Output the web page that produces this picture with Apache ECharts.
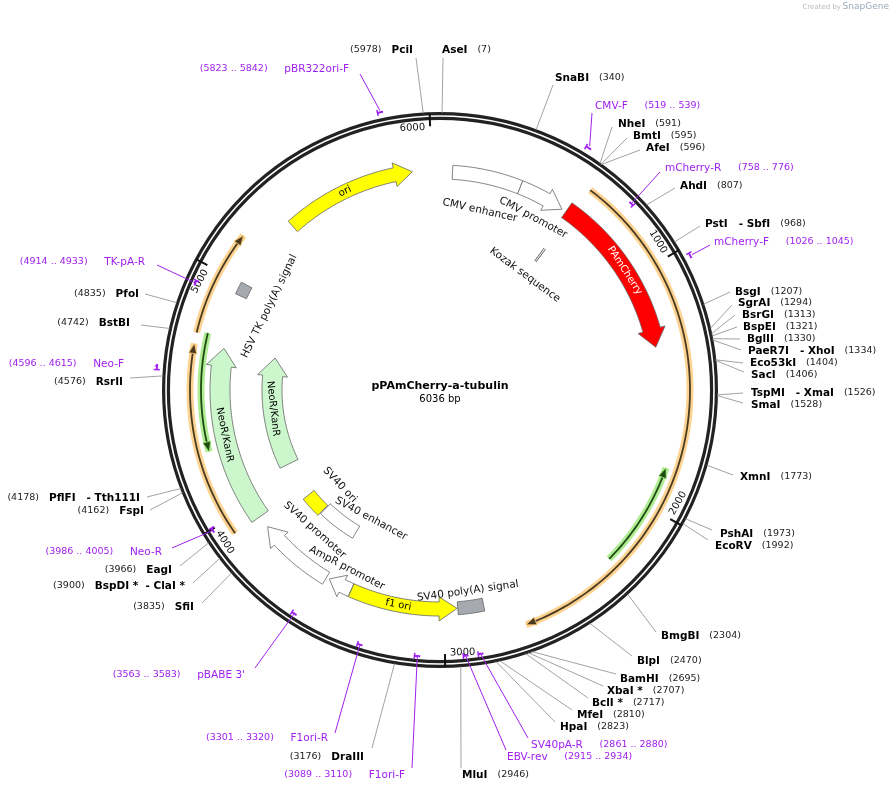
<!DOCTYPE html>
<html><head><meta charset="utf-8">
<script src="https://cdn.jsdelivr.net/npm/echarts@6/dist/echarts.min.js"></script>
<style>html,body{margin:0;padding:0;background:#fff}#c{width:893px;height:792px}</style>
</head><body><div id="c"></div>
<script>
const L = 6036;
const title = 'pPAmCherry-a-tubulin';
// features
const featNames = ['CMV enhancer','CMV promoter','PAmCherry','ori','NeoR/KanR','NeoR/KanR','SV40 promoter','AmpR promoter','f1 ori','SV40 ori','SV40 enhancer','SV40 poly(A) signal','HSV TK poly(A) signal'];
const featStart = [55, 362, 590, 5332, 3938, 4090, 3541, 3420, 2943, 3760, 3530, 2826, 4950];
const featEnd   = [362, 570, 1321, 5915, 4710, 4711, 3883, 3527, 3419, 3880, 3755, 2940, 5005];
const featDir   = [0, 1, 1, 1, 1, 1, 1, 1, -1, 0, 0, 0, 0];
const featColor = ['#ffffff','#ffffff','#ff0000','#ffff00','#ccf7cc','#ccf7cc','#ffffff','#ffffff','#ffff00','#ffff00','#ffffff','#a6a9b0','#a6a9b0'];
// ORF / translated arcs
const orfStart = [619, 3941, 4750, 1828, 4276];
const orfEnd   = [2680, 4707, 5167, 2263, 4758];
const orfDir   = [1, 1, 1, -1, -1];
const orfKind  = ['orange','orange','orange','green','green'];
// restriction sites
const siteNames = ['PciI','AseI','SnaBI','NheI','BmtI','AfeI','AhdI','PstI   - SbfI','BsgI','SgrAI','BsrGI','BspEI','BglII','PaeR7I   - XhoI','Eco53kI','SacI','TspMI   - XmaI','SmaI','XmnI','PshAI','EcoRV','BmgBI','BlpI','BamHI','XbaI *','BclI *','MfeI','HpaI','MluI','DraIII','SfiI','BspDI *  - ClaI *','EagI','FspI','PflFI   - Tth111I','RsrII','BstBI','PfoI'];
const sitePos = [5978,7,340,591,595,596,807,968,1207,1294,1313,1321,1330,1334,1404,1406,1526,1528,1773,1973,1992,2304,2470,2695,2707,2717,2810,2823,2946,3176,3835,3900,3966,4162,4178,4576,4742,4835];
// primers
const primerNames = ['CMV-F','mCherry-R','mCherry-F','SV40pA-R','EBV-rev','F1ori-F','F1ori-R',"pBABE 3'",'Neo-R','Neo-F','TK-pA-R','pBR322ori-F'];
const primerStart = [519,758,1026,2861,2915,3089,3301,3563,3986,4596,4914,5823];
const primerEnd   = [539,776,1045,2880,2934,3110,3320,3583,4005,4615,4933,5842];
const primerFwd   = [1,0,1,0,0,0,0,0,0,1,0,1];
const tickValues = [1000,2000,3000,4000,5000,6000];
</script>
<script>
// ---- layout/style (pixel placement of labels, radii) ----
const featRadius = [218,218,220,220,220,168,220,219,219,168,165,219,220];
const featWidth  = [14,14,18,14,20,20,14,14,14,14,14,13,12];
const featInside = {2:['PAmCherry','#fff',958], 3:['ori','#000',5607], 4:['NeoR/KanR','#000',4330], 5:['NeoR/KanR','#000',4420], 8:['f1 ori','#000',3202]};
const featLabels = [['CMV enhancer',210,184],['CMV promoter',476,196],['Kozak sequence',612,143],['HSV TK poly(A) signal',4965,190],['SV40 ori',3798,138],['SV40 enhancer',3490,146],['SV40 promoter',3719,188],['AmpR promoter',3481,201],['SV40 poly(A) signal',2886,203]];
// site label layout: [textX, textY, side(1 right,-1 left), lineX, lineY]
const siteLayout = [[413,50,-1,416,58],[442,50,1,443,58],[555,78,1,553,85],[618,124,1,612,127],[633,136,1,627,138],[646,148,1,640,150],[680,186,1,675,188],[705,224,1,700,226],
[735,292,1,730,292],[738,303,1,732,305],[742,315,1,735,315],[743,327,1,737,327],[747,339,1,740,339],[748,351,1,741,350],[750,363,1,743,363],[751,375,1,744,372],[751,393,1,743,393],[751,405,1,743,403],
[740,477,1,733,475],[720,534,1,712,530],[715,546,1,708,540],[661,636,1,656,632],[637,661,1,632,656],[620,679,1,616,674],[607,691,1,603,686],[592,703,1,588,698],[577,715,1,572,710],[560,727,1,555,722],
[462,775,1,461,768],[364,757,-1,372,748],[194,607,-1,202,603],[185,586,-1,193,583],[172,570,-1,180,566],[144,511,-1,150,510],[140,498,-1,147,497],[123,382,-1,130,378],[130,323,-1,141,325],[139,294,-1,145,294]];
const primerLayout = [[595,106,1,592,113],[665,168,1,660,172],[714,242,1,710,245],[531,745,1,528,738],[507,757,1,506,750],[405,775,-1,412,768],[328,738,-1,335,733],[245,675,-1,255,668],[162,552,-1,172,548],[124,364,-1,156,365],[145,262,-1,157,265],[349,69,-1,360,74]];

const PURPLE = '#a020f0';
const FONT = 'DejaVu Sans';
function norm(p){return ((p%L)+L)%L;}
function flipped(p){const d=norm(p)/L*360; return d>90&&d<270;}
function rotFor(p){let d=norm(p)/L*360; let r=(d>90&&d<270)?d-180:d; return -r*Math.PI/180;}

function render(params, api){
  const P = (r,p)=>api.coord([r, norm(p)]);
  const C = api.coord([0,0]);
  const ch = [];
  const arcPts=(r,s,e,n)=>{const a=[];n=n||Math.max(4,Math.ceil(Math.abs(e-s)/15));for(let i=0;i<=n;i++)a.push(P(r,s+(e-s)*i/n));return a;};
  // backbone
  ch.push({type:'circle',shape:{cx:C[0],cy:C[1],r:274},style:{fill:'none',stroke:'#222',lineWidth:8}});
  ch.push({type:'circle',shape:{cx:C[0],cy:C[1],r:274},style:{fill:'none',stroke:'#fff',lineWidth:1.6}});
  // ticks
  tickValues.forEach(t=>{
    const a=P(277,t), b=P(264,t);
    ch.push({type:'line',shape:{x1:a[0],y1:a[1],x2:b[0],y2:b[1]},style:{stroke:'#111',lineWidth:2}});
    const off = 5/(2*Math.PI*263)*L;
    const q=P(263,t-off);
    ch.push({type:'text',x:q[0],y:q[1],rotation:rotFor(t),style:{text:String(t),font:'10px '+FONT,fill:'#111',align:flipped(t)?'left':'right',verticalAlign:'middle'}});
  });
  // ORF arcs
  orfStart.forEach((s,i)=>{
    const e=orfEnd[i], r=orfKind[i]==='orange'?250:239;
    const band = orfKind[i]==='orange'?'rgba(252,196,110,0.75)':'rgba(150,230,110,0.75)';
    const dark = orfKind[i]==='orange'?'#4a3a20':'#1f4a14';
    ch.push({type:'polyline',shape:{points:arcPts(r,s,e)},style:{stroke:band,lineWidth:7,fill:'none'}});
    const hl=10/(2*Math.PI*r)*L;
    const tipP = orfDir[i]>0?e:s, baseP = orfDir[i]>0?e-hl:s+hl;
    const ls = orfDir[i]>0?s:s+hl, le = orfDir[i]>0?e-hl:e;
    ch.push({type:'polyline',shape:{points:arcPts(r,ls,le)},style:{stroke:dark,lineWidth:1.8,fill:'none'}});
    ch.push({type:'polygon',shape:{points:[P(r+4,baseP),P(r,tipP),P(r-4,baseP)]},style:{fill:dark,stroke:band,lineWidth:1}});
  });
  // features
  featNames.forEach((n,i)=>{
    const s=featStart[i], e=featEnd[i], r=featRadius[i], w=featWidth[i]/2, d=featDir[i];
    let pts;
    if(d===0){
      pts=arcPts(r+w,s,e).concat(arcPts(r-w,e,s));
    } else {
      const hl=Math.min(18/(2*Math.PI*r)*L,(e-s)*0.6), hw=w+5;
      if(d>0){
        const b=e-hl;
        pts=arcPts(r+w,s,b).concat([P(r+hw,b),P(r,e),P(r-hw,b)]).concat(arcPts(r-w,b,s));
      } else {
        const b=s+hl;
        pts=arcPts(r+w,e,b).concat([P(r+hw,b),P(r,s),P(r-hw,b)]).concat(arcPts(r-w,b,e));
      }
    }
    ch.push({type:'polygon',shape:{points:pts},style:{fill:featColor[i],stroke:'#666',lineWidth:0.8}});
    if(featInside[i]){
      const f=featInside[i], q=P(r,f[2]);
      ch.push({type:'text',x:q[0],y:q[1],rotation:rotFor(f[2]),style:{text:f[0],font:'10px '+FONT,fill:f[1],align:'center',verticalAlign:'middle'}});
    }
  });
  // Kozak mark
  [608,618].forEach(p=>{const a=P(160,p),b=P(176,p);ch.push({type:'line',shape:{x1:a[0],y1:a[1],x2:b[0],y2:b[1]},style:{stroke:'#333',lineWidth:0.8}});});
  // feature labels
  featLabels.forEach(f=>{
    const q=P(f[2],f[1]);
    ch.push({type:'text',x:q[0],y:q[1],rotation:rotFor(f[1]),style:{text:f[0],font:'10.5px '+FONT,fill:'#111',align:'center',verticalAlign:'middle'}});
  });
  // sites
  siteNames.forEach((n,i)=>{
    const lay=siteLayout[i], a=P(277,sitePos[i]);
    ch.push({type:'line',shape:{x1:a[0],y1:a[1],x2:lay[3],y2:lay[4]},style:{stroke:'#8a8a8a',lineWidth:0.8}});
    const txt = lay[2]>0? '{b|'+n+'}   {n|('+sitePos[i]+')}' : '{n|('+sitePos[i]+')}   {b|'+n+'}';
    ch.push({type:'text',x:lay[0],y:lay[1],style:{text:txt,align:lay[2]>0?'left':'right',verticalAlign:'middle',
      rich:{b:{font:'bold 10.5px '+FONT,fill:'#000'},n:{font:'9.5px '+FONT,fill:'#222'}}}});
  });
  // primers
  primerNames.forEach((n,i)=>{
    const lay=primerLayout[i], r=primerFwd[i]?284:267;
    ch.push({type:'polyline',shape:{points:arcPts(r,primerStart[i],primerEnd[i],4)},style:{stroke:PURPLE,lineWidth:2,fill:'none'}});
    const t0=primerFwd[i]?primerStart[i]:primerEnd[i];
    const u=P(r-3,t0), v=P(r+3,t0);
    ch.push({type:'line',shape:{x1:u[0],y1:u[1],x2:v[0],y2:v[1]},style:{stroke:PURPLE,lineWidth:1.5}});
    const m=P(primerFwd[i]?286:268,(primerStart[i]+primerEnd[i])/2);
    ch.push({type:'line',shape:{x1:m[0],y1:m[1],x2:lay[3],y2:lay[4]},style:{stroke:PURPLE,lineWidth:1}});
    const rng='('+primerStart[i]+' .. '+primerEnd[i]+')';
    const txt = lay[2]>0? n+'     {s|'+rng+'}' : '{s|'+rng+'}     '+n;
    ch.push({type:'text',x:lay[0],y:lay[1],style:{text:txt,align:lay[2]>0?'left':'right',verticalAlign:'middle',font:'10.5px '+FONT,fill:PURPLE,
      rich:{s:{font:'9.5px '+FONT,fill:PURPLE}}}});
  });
  // center
  ch.push({type:'text',x:C[0],y:C[1]-4,style:{text:title,font:'bold 11px '+FONT,fill:'#000',align:'center',verticalAlign:'middle'}});
  ch.push({type:'text',x:C[0],y:C[1]+9,style:{text:L+' bp',font:'10px '+FONT,fill:'#000',align:'center',verticalAlign:'middle'}});
  return {type:'group',children:ch};
}

const chart = echarts.init(document.getElementById('c'));
chart.setOption({
  animation:false,
  graphic:[{type:'text',right:52,top:4,style:{text:'Created by',font:'7px '+FONT,fill:'#bbb'}},
           {type:'text',right:4,top:2,style:{text:'SnapGene',font:'9px '+FONT,fill:'#9ab'}}],
  polar:{center:[440,390],radius:277},
  angleAxis:{type:'value',min:0,max:L,startAngle:90,clockwise:true,show:false},
  radiusAxis:{type:'value',min:0,max:277,show:false},
  series:[{type:'custom',coordinateSystem:'polar',data:[[0,0]],renderItem:render,silent:true}]
});
</script></body></html>
